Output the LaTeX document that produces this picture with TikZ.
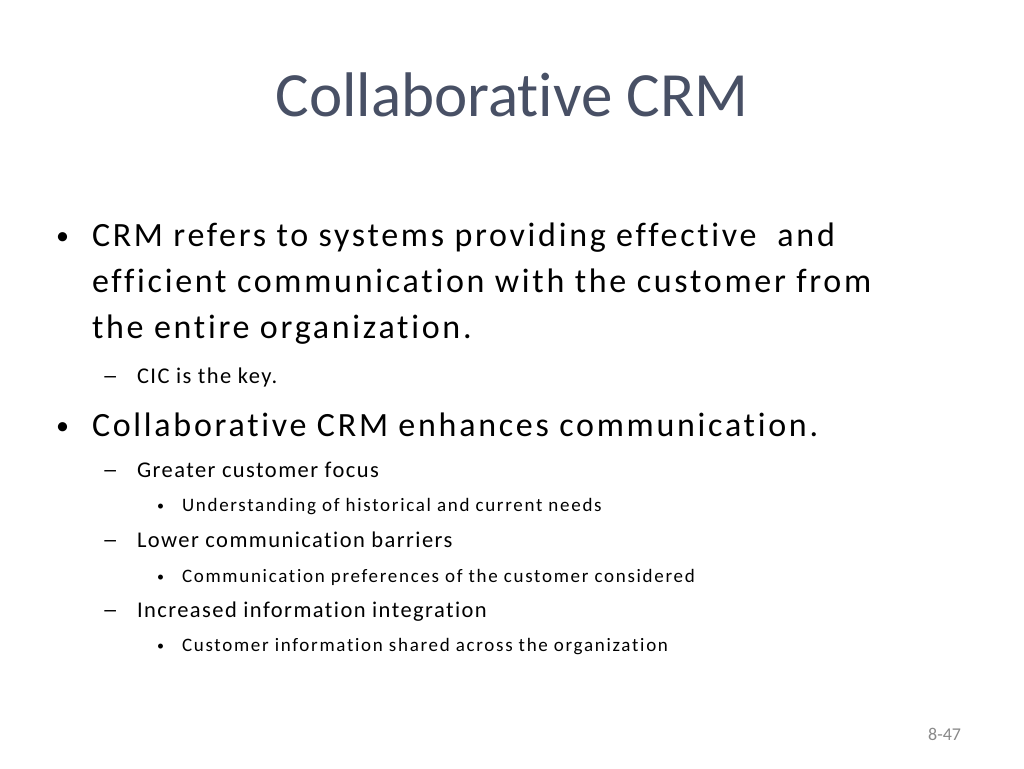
\documentclass[tikz,border=0pt]{standalone}
\usepackage{fontspec}
\setmainfont{Carlito}[Ligatures={NoCommon,NoContextual}]
\newfontfamily\fone{Carlito}[Ligatures={NoCommon,NoContextual},LetterSpace=8]
\newfontfamily\ftwo{Carlito}[Ligatures={NoCommon,NoContextual},LetterSpace=6.4]
\newfontfamily\fthree{Carlito}[Ligatures={NoCommon,NoContextual},LetterSpace=9]
\definecolor{titlecol}{RGB}{72,80,101}
\definecolor{numcol}{RGB}{137,137,137}
\newcommand{\widedash}{\scalebox{1.45}[1]{–}}
\tikzset{
  x=1pt,y=-1pt,
  txt/.style={anchor=base west,inner sep=0pt,outer sep=0pt,text=black},
  lone/.style={txt,font=\fone\fontsize{34}{40}\selectfont},
  ltwo/.style={txt,font=\ftwo\fontsize{22.5}{27}\selectfont},
  lthree/.style={txt,font=\fthree\fontsize{19}{23}\selectfont},
  bone/.style={txt,font=\fontsize{26}{30}\selectfont},
  dtwo/.style={txt,font=\fontsize{22.5}{27}\selectfont},
  bthree/.style={txt,font=\fontsize{14}{17}\selectfont},
}
\begin{document}
\begin{tikzpicture}
\useasboundingbox[fill=white] (0,0) rectangle (1024,768);
\node[anchor=base,inner sep=0pt,text=titlecol,font=\fontsize{63}{70}\selectfont] (title) at (512,116) {Collaborative CRM};
% level 1 bullet 1
\node[bone] (b1) at (56,244) {\textbullet};
\node[lone] (t1a) at (92,246) {CRM refers to systems providing effective\ \ and};
\node[lone] (t1b) at (92,292) {efficient communication with the customer from};
\node[lone] (t1c) at (92,338) {the entire organization.};
\node[dtwo] (d1) at (102,383) {\widedash};
\node[ltwo] (t1d) at (137,383) {CIC is the key.};
% level 1 bullet 2
\node[bone] (b2) at (56,434) {\textbullet};
\node[lone] (t2) at (92,436) {Collaborative CRM enhances communication.};
\node[dtwo] (d2) at (102,477) {\widedash};
\node[ltwo] (t2a) at (137,477) {Greater customer focus};
\node[bthree] (s2a) at (157,510) {\textbullet};
\node[lthree] (t2aa) at (182,511) {Understanding of historical and current needs};
\node[dtwo] (d3) at (102,547) {\widedash};
\node[ltwo] (t2b) at (137,547) {Lower communication barriers};
\node[bthree] (s2b) at (157,581) {\textbullet};
\node[lthree] (t2bb) at (182,582) {Communication preferences of the customer considered};
\node[dtwo] (d4) at (102,617) {\widedash};
\node[ltwo] (t2c) at (137,617) {Increased information integration};
\node[bthree] (s2c) at (157,650) {\textbullet};
\node[lthree] (t2cc) at (182,651) {Customer information shared across the organization};
\node[anchor=base west,inner sep=0pt,text=numcol,font=\fontsize{18}{21}\selectfont] (pg) at (928,740) {8-47};
\end{tikzpicture}
\end{document}
